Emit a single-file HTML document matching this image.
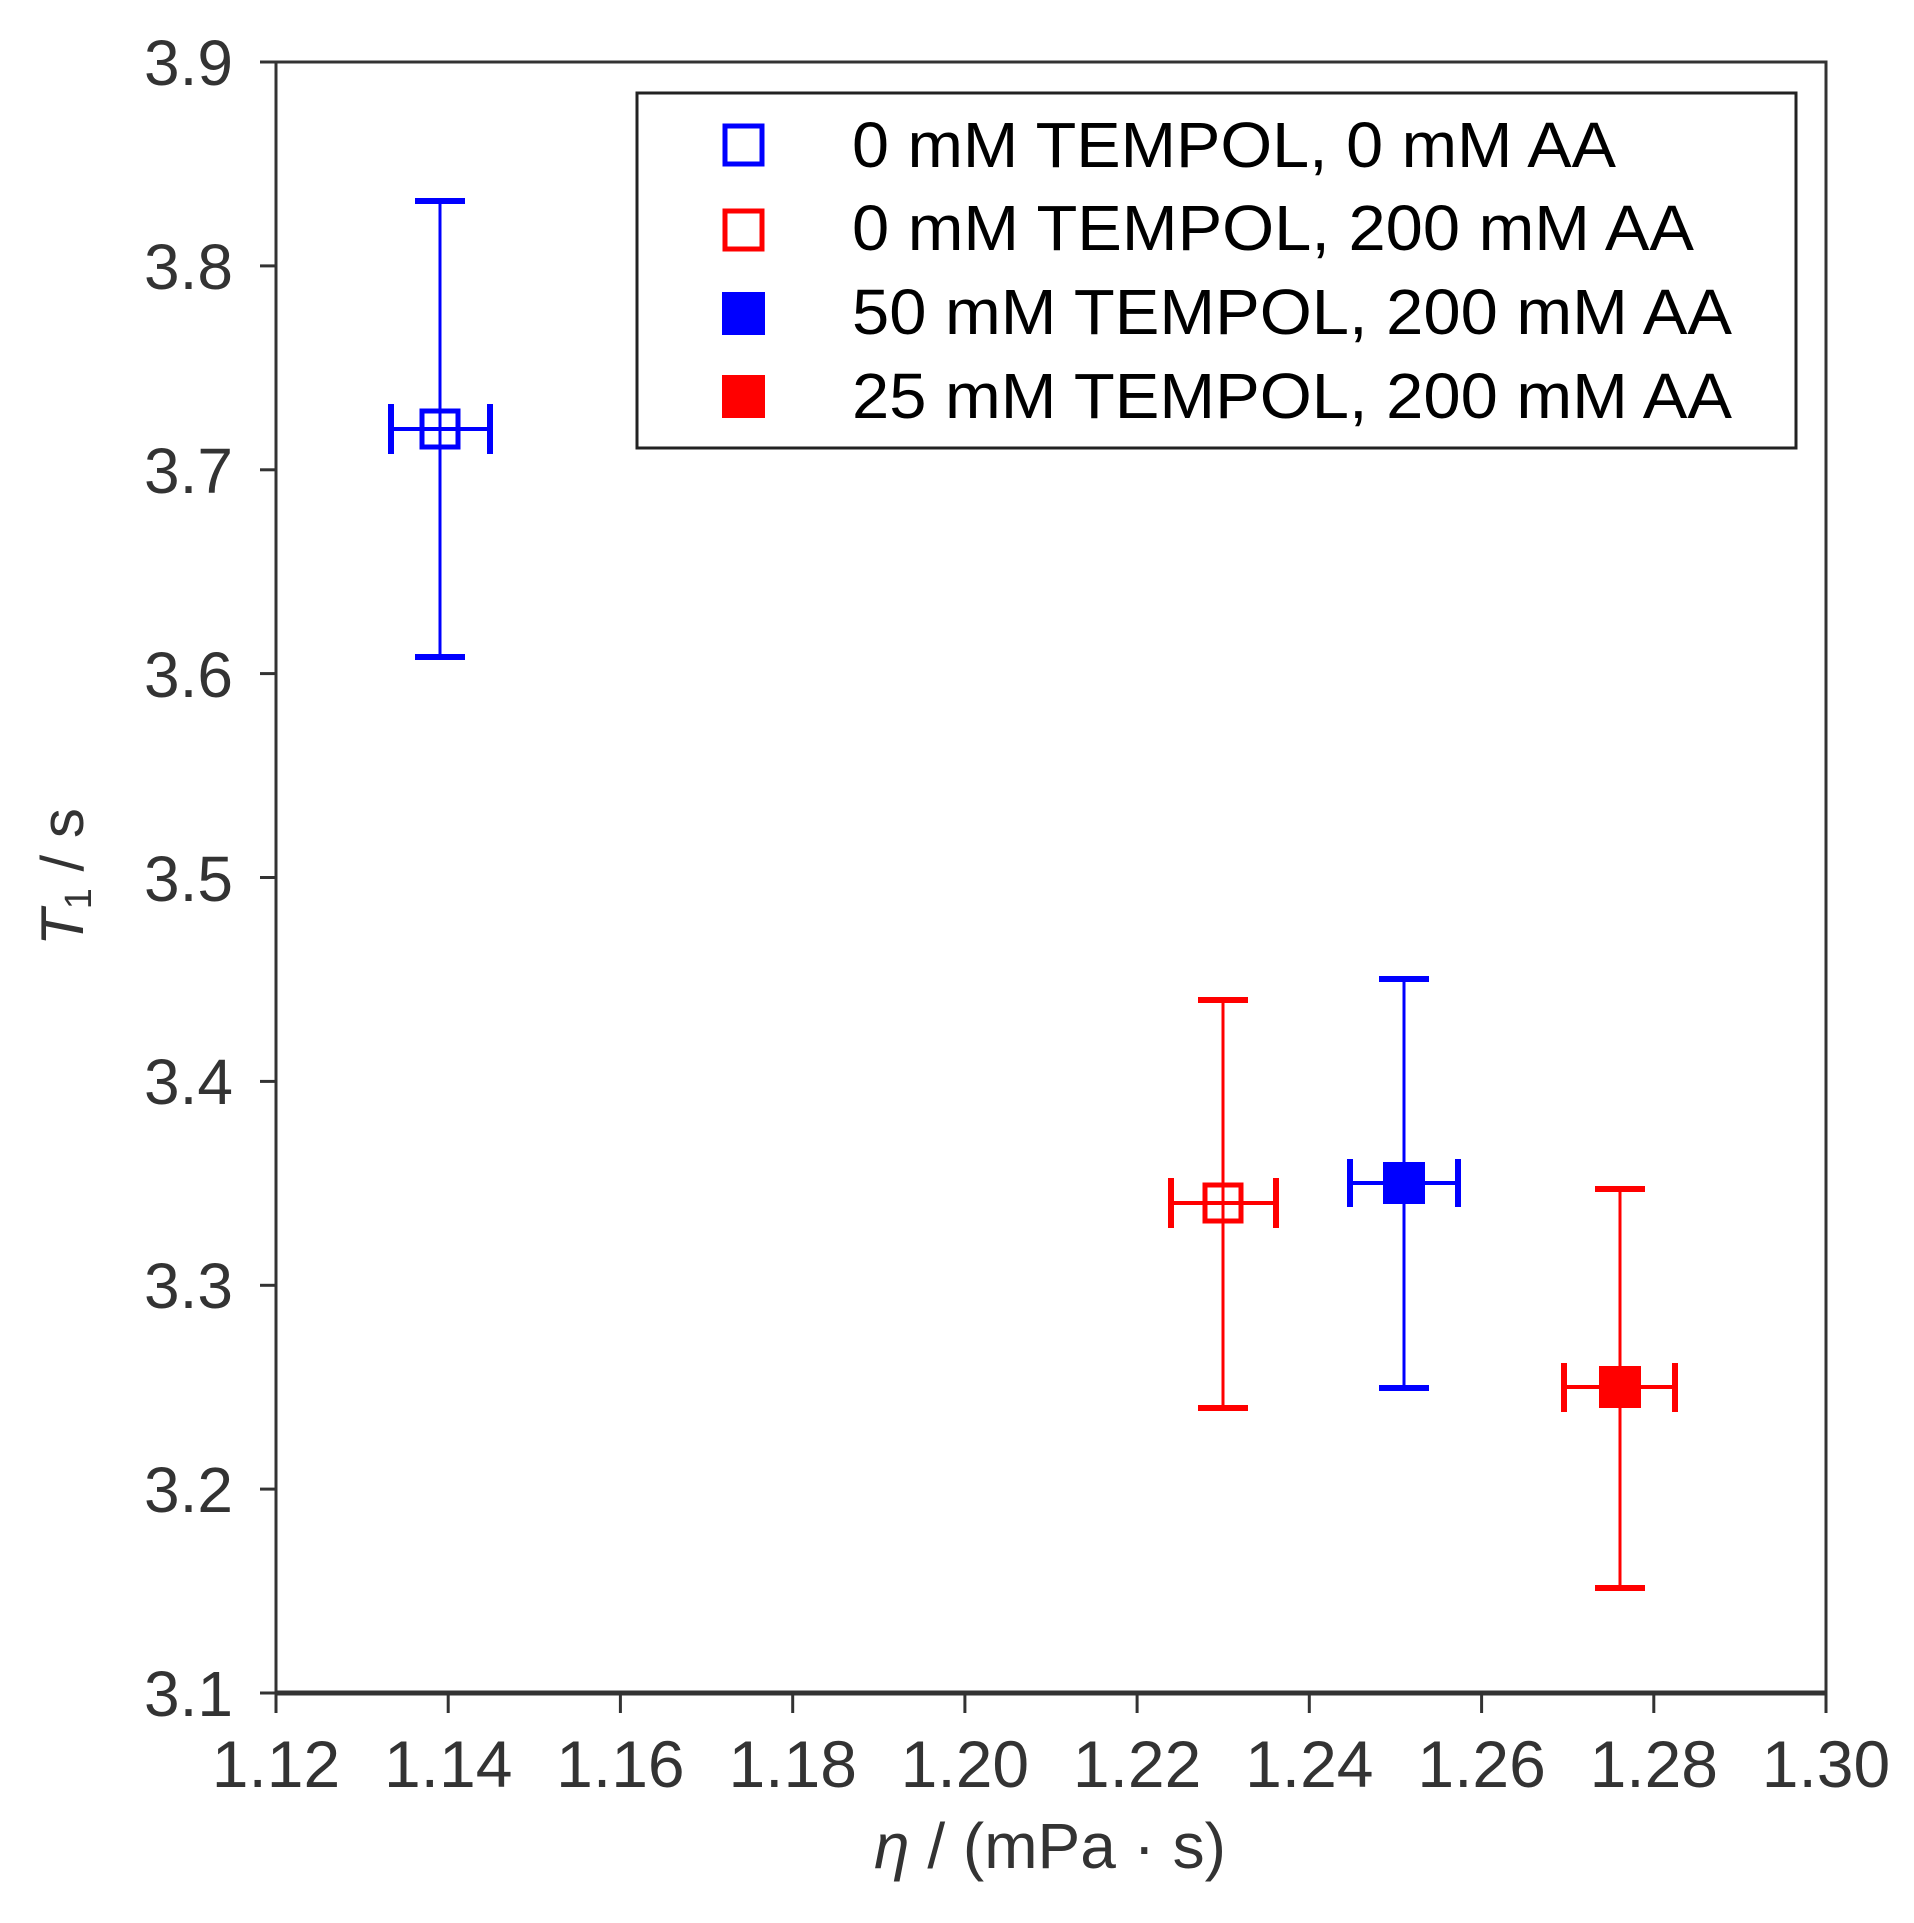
<!DOCTYPE html>
<html><head><meta charset="utf-8"><style>
html,body{margin:0;padding:0;background:#fff;}
svg{display:block;}
text{font-family:"Liberation Sans",sans-serif;}
</style></head><body>
<svg width="1914" height="1923" viewBox="0 0 1914 1923" xmlns="http://www.w3.org/2000/svg">
<rect width="1914" height="1923" fill="#fff"/>
<rect x="276" y="62" width="1550" height="1631" fill="none" stroke="#333" stroke-width="3"/>
<line x1="276" y1="1693" x2="1826" y2="1693" stroke="#333" stroke-width="5"/>
<g stroke="#333" stroke-width="3">
<line x1="260" y1="62" x2="276" y2="62"/><line x1="260" y1="265.9" x2="276" y2="265.9"/>
<line x1="260" y1="469.8" x2="276" y2="469.8"/><line x1="260" y1="673.6" x2="276" y2="673.6"/>
<line x1="260" y1="877.5" x2="276" y2="877.5"/><line x1="260" y1="1081.4" x2="276" y2="1081.4"/>
<line x1="260" y1="1285.3" x2="276" y2="1285.3"/><line x1="260" y1="1489.1" x2="276" y2="1489.1"/>
<line x1="260" y1="1693" x2="276" y2="1693"/>
</g>
<g stroke="#333" stroke-width="3">
<line x1="276" y1="1693" x2="276" y2="1713"/><line x1="448.2" y1="1693" x2="448.2" y2="1713"/>
<line x1="620.4" y1="1693" x2="620.4" y2="1713"/><line x1="792.7" y1="1693" x2="792.7" y2="1713"/>
<line x1="964.9" y1="1693" x2="964.9" y2="1713"/><line x1="1137.1" y1="1693" x2="1137.1" y2="1713"/>
<line x1="1309.3" y1="1693" x2="1309.3" y2="1713"/><line x1="1481.6" y1="1693" x2="1481.6" y2="1713"/>
<line x1="1653.8" y1="1693" x2="1653.8" y2="1713"/><line x1="1826" y1="1693" x2="1826" y2="1713"/>
</g>
<g fill="#333" font-size="64" text-anchor="end">
<text x="233" y="85">3.9</text><text x="233" y="289">3.8</text><text x="233" y="493">3.7</text>
<text x="233" y="697">3.6</text><text x="233" y="901">3.5</text><text x="233" y="1104">3.4</text>
<text x="233" y="1308">3.3</text><text x="233" y="1512">3.2</text><text x="233" y="1716">3.1</text>
</g>
<g fill="#333" font-size="66" text-anchor="middle">
<text x="276" y="1787">1.12</text><text x="448.2" y="1787">1.14</text><text x="620.4" y="1787">1.16</text>
<text x="792.7" y="1787">1.18</text><text x="964.9" y="1787">1.20</text><text x="1137.1" y="1787">1.22</text>
<text x="1309.3" y="1787">1.24</text><text x="1481.6" y="1787">1.26</text><text x="1653.8" y="1787">1.28</text>
<text x="1826" y="1787">1.30</text>
</g>
<text x="1050" y="1868" font-size="64" fill="#333" text-anchor="middle"><tspan font-style="italic">η</tspan> / (mPa · s)</text>
<text transform="translate(83,877) rotate(-90)" font-size="60" fill="#333" text-anchor="middle"><tspan font-style="italic">T</tspan><tspan font-size="38" dy="8">1</tspan><tspan dy="-8"> / s</tspan></text>

<g stroke="#0000ff" fill="none">
<line x1="440" y1="201" x2="440" y2="657" stroke-width="3"/>
<line x1="415" y1="201" x2="465" y2="201" stroke-width="6"/>
<line x1="415" y1="657" x2="465" y2="657" stroke-width="6"/>
<line x1="391" y1="429" x2="490" y2="429" stroke-width="4"/>
<line x1="391" y1="404" x2="391" y2="454" stroke-width="6"/>
<line x1="490" y1="404" x2="490" y2="454" stroke-width="6"/>
<rect x="422" y="411" width="36" height="36" stroke-width="5"/>
</g>
<g stroke="#ff0000" fill="none">
<line x1="1223" y1="1000" x2="1223" y2="1408" stroke-width="3"/>
<line x1="1198" y1="1000" x2="1248" y2="1000" stroke-width="6"/>
<line x1="1198" y1="1408" x2="1248" y2="1408" stroke-width="6"/>
<line x1="1171" y1="1203" x2="1276" y2="1203" stroke-width="4"/>
<line x1="1171" y1="1178" x2="1171" y2="1228" stroke-width="6"/>
<line x1="1276" y1="1178" x2="1276" y2="1228" stroke-width="6"/>
<rect x="1205" y="1185" width="36" height="36" stroke-width="5"/>
</g>
<g stroke="#0000ff">
<line x1="1404" y1="979" x2="1404" y2="1388" stroke-width="3"/>
<line x1="1379" y1="979" x2="1429" y2="979" stroke-width="6"/>
<line x1="1379" y1="1388" x2="1429" y2="1388" stroke-width="6"/>
<line x1="1350" y1="1183" x2="1458" y2="1183" stroke-width="4"/>
<line x1="1350" y1="1159" x2="1350" y2="1207" stroke-width="6"/>
<line x1="1458" y1="1159" x2="1458" y2="1207" stroke-width="6"/>
<rect x="1383" y="1162" width="42" height="42" fill="#0000ff" stroke="none"/>
</g>
<g stroke="#ff0000">
<line x1="1620" y1="1189" x2="1620" y2="1588" stroke-width="3"/>
<line x1="1595" y1="1189" x2="1645" y2="1189" stroke-width="6"/>
<line x1="1595" y1="1588" x2="1645" y2="1588" stroke-width="6"/>
<line x1="1564" y1="1387" x2="1675" y2="1387" stroke-width="4"/>
<line x1="1564" y1="1363" x2="1564" y2="1412" stroke-width="6"/>
<line x1="1675" y1="1363" x2="1675" y2="1412" stroke-width="6"/>
<rect x="1599" y="1366" width="42" height="42" fill="#ff0000" stroke="none"/>
</g>

<rect x="637" y="93" width="1159" height="355" fill="#fff" stroke="#222" stroke-width="3"/>
<rect x="725" y="126" width="37" height="38" fill="none" stroke="#0000ff" stroke-width="5"/>
<rect x="725" y="211" width="37" height="38" fill="none" stroke="#ff0000" stroke-width="5"/>
<rect x="722" y="292" width="43" height="43" fill="#0000ff"/>
<rect x="722" y="375" width="43" height="43" fill="#ff0000"/>
<g fill="#000" font-size="64">
<text x="852" y="167" textLength="764" lengthAdjust="spacingAndGlyphs">0 mM TEMPOL, 0 mM AA</text>
<text x="852" y="250" textLength="842" lengthAdjust="spacingAndGlyphs">0 mM TEMPOL, 200 mM AA</text>
<text x="852" y="334" textLength="880" lengthAdjust="spacingAndGlyphs">50 mM TEMPOL, 200 mM AA</text>
<text x="852" y="418" textLength="880" lengthAdjust="spacingAndGlyphs">25 mM TEMPOL, 200 mM AA</text>
</g>
</svg>
</body></html>
